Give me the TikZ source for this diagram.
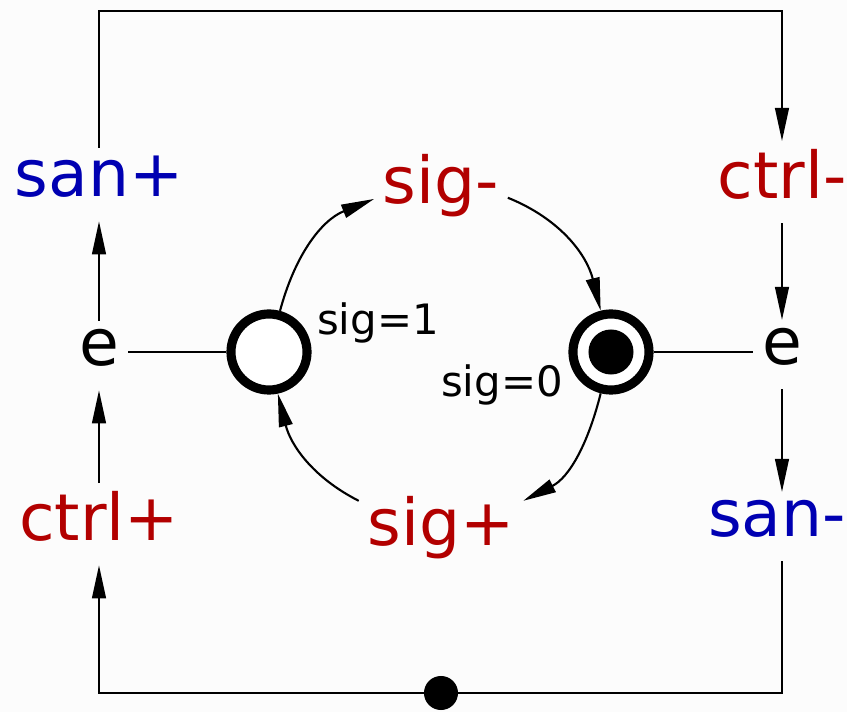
\documentclass[tikz,border=0pt]{standalone}
\usepackage{fontspec}
\setmainfont{DejaVu Sans}
\usepackage{xcolor}
\usetikzlibrary{arrows.meta}

\definecolor{sigred}{RGB}{178,0,0}
\definecolor{sanblue}{RGB}{0,0,178}
\definecolor{bggray}{RGB}{252,252,252}

\begin{document}
\begin{tikzpicture}[x=0.01cm, y=0.01cm,
    lbl/.style={font=\fontsize{18.4}{22}\selectfont, inner sep=2.3pt, text depth=4.4pt, anchor=base},
    guard/.style={font=\fontsize{11.9}{14}\selectfont, inner sep=0pt, anchor=base},
    place/.style={draw, circle, line width=2.6pt, fill=white, inner sep=0pt, minimum size=0.76cm},
    arc/.style={line width=0.6pt, -{Triangle[length=9.4pt,width=3.9pt]}},
    wire/.style={line width=0.6pt}]
    \useasboundingbox[fill=bggray] (0,0) rectangle (847,-712);

    % places
    \node[place] (lp) at (269,-352) {};
    \node[place] (rp) at (611,-352) {};
    \node[circle, fill=black, inner sep=0pt, minimum size=0.45cm] (tok) at (rp) {};

    % transitions of the ring
    \node[lbl, text=sigred] (sigm) at (441,-204) {sig-};
    \node[lbl, text=sigred] (sigp) at (441,-546) {sig+};
    \node[guard] (g1) at (378,-335) {sig=1};
    \node[guard] (g0) at (502,-397) {sig=0};

    % left column
    \node[lbl, text=sanblue] (sanp) at (99,-197) {san+};
    \node[lbl] (el) at (99,-366) {e};
    \node[lbl, text=sigred] (ctrlp) at (99,-541) {ctrl+};

    % right column
    \node[lbl, text=sigred] (ctrlm) at (782,-199) {ctrl-};
    \node[lbl] (er) at (782,-365) {e};
    \node[lbl, text=sanblue] (sanm) at (777,-537) {san-};

    % corners and junction
    \coordinate (tl) at (99,-11);
    \coordinate (tr) at (782,-11);
    \coordinate (bl) at (99,-693);
    \coordinate (br) at (782,-693);
    \node[circle, fill=black, inner sep=0pt, minimum size=0.34cm] (dot) at (441,-693) {};

    % ring arcs
    \draw[arc] (lp.75) to[out=75, in=202] (sigm.190);
    \draw[arc] (sigm.-9) to[out=-22, in=104] (rp.104);
    \draw[arc] (rp.-104) to[out=-104, in=27] (sigp.19);
    \draw[arc] (sigp.161) to[out=153, in=-76] (lp.-78);

    % side connections
    \draw[wire] (lp.west) -- (lp.west -| el.east);
    \draw[wire] (rp.east) -- (rp.east -| er.west);
    \draw[arc] (el.north) -- (sanp.south);
    \draw[arc] (ctrlp.north) -- (el.south);
    \draw[arc] (ctrlm.south) -- (er.north);
    \draw[arc] (er.south) -- (er.south |- sanm.north);

    % outer loop
    \draw[arc] (sanp.north) -- (tl) -- (tr) -- (ctrlm.north);
    \draw[arc] (br |- sanm.south) -- (br) -- (bl) -- (ctrlp.south);
\end{tikzpicture}
\end{document}
